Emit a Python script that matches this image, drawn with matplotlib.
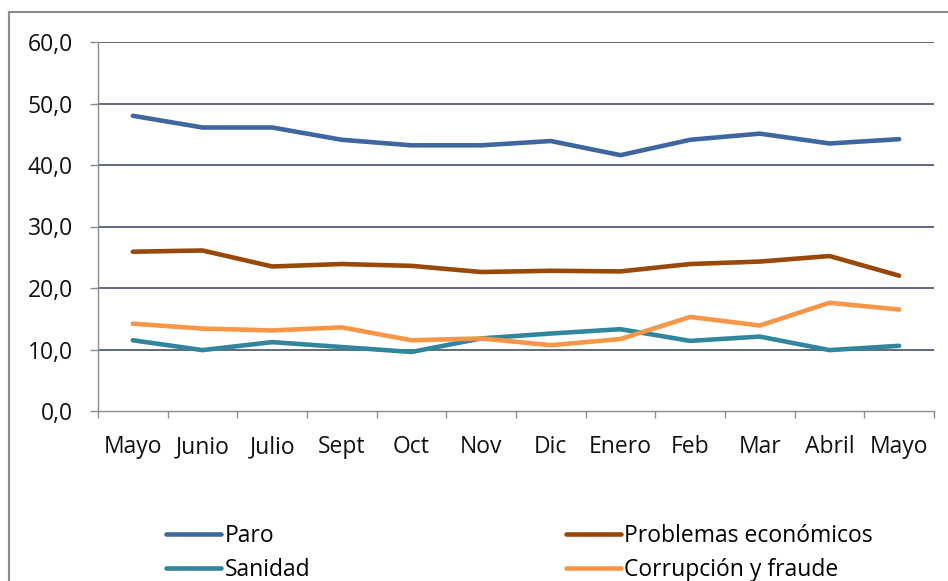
import matplotlib.pyplot as plt
from matplotlib.lines import Line2D
from matplotlib.ticker import FixedLocator, FuncFormatter

plt.rcParams['font.family'] = ['Open Sans', 'DejaVu Sans']

meses = ['Mayo', 'Junio', 'Julio', 'Sept', 'Oct', 'Nov', 'Dic', 'Enero', 'Feb', 'Mar', 'Abril', 'Mayo']
paro = [48.0, 46.1, 46.1, 44.1, 43.2, 43.2, 43.9, 41.6, 44.1, 45.1, 43.5, 44.2]
problemas = [25.9, 26.1, 23.5, 23.9, 23.6, 22.6, 22.8, 22.7, 23.9, 24.3, 25.2, 22.0]
sanidad = [11.5, 9.9, 11.2, 10.4, 9.6, 11.8, 12.6, 13.3, 11.4, 12.1, 9.9, 10.6]
corrupcion = [14.2, 13.4, 13.1, 13.6, 11.5, 11.8, 10.7, 11.7, 15.3, 13.9, 17.6, 16.5]

W, H = 948, 581
fs = 16.5
fig = plt.figure(figsize=(W / 100, H / 100), dpi=100)
ax = fig.add_axes([98 / W, 1 - 411 / H, (934 - 98) / W, (411 - 42) / H])

x = list(range(len(meses)))
lw = 3.3
kw = dict(linewidth=lw, solid_capstyle='round', solid_joinstyle='round')
l1, = ax.plot(x, paro, color='#3e67a0', label='Paro', **kw)
l2, = ax.plot(x, problemas, color='#984807', label='Problemas económicos', **kw)
l3, = ax.plot(x, sanidad, color='#31859c', label='Sanidad', **kw)
l4, = ax.plot(x, corrupcion, color='#f79646', label='Corrupción y fraude', **kw)

ax.set_xlim(-0.5, len(meses) - 0.5)
ax.set_ylim(0, 60)

# grid lines (Excel style)
for v in range(10, 61, 10):
    ax.axhline(v, color='#34435c', linewidth=1.1, zorder=0)

for s in ['top', 'right']:
    ax.spines[s].set_visible(False)
for s in ['left', 'bottom']:
    ax.spines[s].set_color('#8c8c8c')
    ax.spines[s].set_linewidth(1.0)

ax.set_yticks(range(0, 61, 10))
ax.yaxis.set_major_formatter(FuncFormatter(lambda v, p: f'{v:.1f}'.replace('.', ',')))
ax.tick_params(axis='y', direction='out', length=6, width=1, color='#8c8c8c',
               labelsize=fs, pad=12, labelcolor='#111111')

ax.set_xticks(x)
ax.set_xticklabels(meses)
ax.xaxis.set_minor_locator(FixedLocator([i - 0.5 for i in range(len(meses) + 1)]))
ax.tick_params(axis='x', which='major', length=0, labelsize=fs, pad=17.5, labelcolor='#111111')
ax.tick_params(axis='x', which='minor', direction='out', length=5, width=1, color='#8c8c8c')

# two legend columns placed like the original
leg_kw = dict(loc='upper left', frameon=False, fontsize=fs, handlelength=2.4,
              handletextpad=0.15, labelspacing=0.45, borderpad=0, borderaxespad=0)
fig.legend([l1, l3], ['Paro', 'Sanidad'], bbox_to_anchor=(166 / W, 1 - 524 / H), **leg_kw)
fig.legend([l2, l4], ['Problemas económicos', 'Corrupción y fraude'],
           bbox_to_anchor=(566 / W, 1 - 524 / H), **leg_kw)

# outer chart border (cropped on the right and bottom)
fig.add_artist(Line2D([9 / W, 9 / W], [0, 1 - 12 / H], transform=fig.transFigure,
                      color='#8c8c8c', linewidth=1.5))
fig.add_artist(Line2D([9 / W, 1], [1 - 12 / H, 1 - 12 / H], transform=fig.transFigure,
                      color='#8c8c8c', linewidth=1.5))

fig.savefig('out.png', dpi=100)
